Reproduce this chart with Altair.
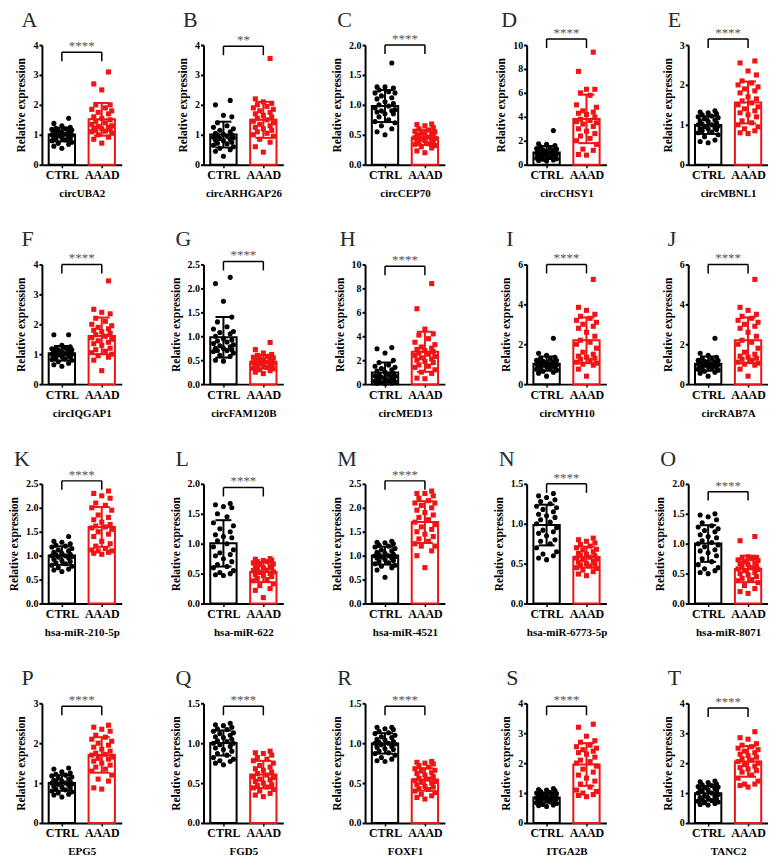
import altair as alt
import numpy as np
import pandas as pd

SERIF = "Liberation Serif"
RED = "#f01414"
GROUPS = ["CTRL", "AAAD"]

LETTERS = list("ABCDEFGHIJKLMNOPQRST")
GENES = ["circUBA2", "circARHGAP26", "circCEP70", "circCHSY1", "circMBNL1",
         "circIQGAP1", "circFAM120B", "circMED13", "circMYH10", "circRAB7A",
         "hsa-miR-210-5p", "hsa-miR-622", "hsa-miR-4521", "hsa-miR-6773-5p", "hsa-miR-8071",
         "EPG5", "FGD5", "FOXF1", "ITGA2B", "TANC2"]
Y_MAX = [4, 4, 2, 10, 3, 4, 2.5, 10, 6, 6, 2.5, 2, 2.5, 1.5, 2, 3, 1.5, 1.5, 4, 4]
Y_STEP = [1, 1, 0.5, 2, 1, 1, 0.5, 2, 2, 2, 0.5, 0.5, 0.5, 0.5, 0.5, 1, 0.5, 0.5, 1, 1]
SIGNIF = ["****", "**"] + ["****"] * 18
BRACKET = [0.94, 0.99, 1.0, 1.05, 1.05, 1.0, 1.025, 0.985, 1.0, 1.0,
           1.025, 0.97, 1.025, 1.0, 0.935, 0.975, 0.975, 0.975, 0.975, 0.96]

CTRL_A = [0.55,0.62,0.68,0.72,0.75,0.8,0.83,0.86,0.88,0.9,0.92,0.95,0.97,0.99,1.0,1.02,1.04,1.06,1.08,1.1,1.12,1.14,1.16,1.18,1.2,1.22,1.25,1.3,1.38,1.55]
AAAD_A = [0.72,0.85,0.92,1.0,1.05,1.1,1.12,1.15,1.18,1.2,1.22,1.25,1.28,1.3,1.35,1.4,1.45,1.5,1.55,1.6,1.7,1.75,1.8,1.85,1.9,2.0,2.0,2.5,2.7,3.1]
CTRL_B = [0.28,0.45,0.5,0.55,0.6,0.65,0.7,0.72,0.75,0.8,0.82,0.85,0.88,0.9,0.92,0.95,0.98,1.0,1.02,1.05,1.1,1.15,1.2,1.25,1.3,1.4,1.6,1.65,2.0,2.15]
AAAD_B = [0.42,0.6,0.75,0.85,0.95,1.0,1.05,1.1,1.15,1.2,1.25,1.3,1.35,1.4,1.45,1.5,1.55,1.6,1.65,1.7,1.75,1.8,1.85,1.9,1.95,2.0,2.05,2.1,2.2,3.55]
CTRL_C = [0.5,0.55,0.6,0.65,0.7,0.72,0.75,0.8,0.85,0.88,0.9,0.92,0.95,0.98,1.0,1.02,1.05,1.1,1.12,1.15,1.2,1.22,1.25,1.28,1.3,1.3,1.2,0.9,0.85,1.7]
AAAD_C = [0.2,0.23,0.28,0.3,0.32,0.34,0.35,0.36,0.38,0.4,0.41,0.42,0.43,0.44,0.45,0.46,0.47,0.48,0.5,0.5,0.52,0.53,0.55,0.56,0.58,0.6,0.62,0.65,0.67,0.68]
CTRL_D = [0.3,0.35,0.4,0.45,0.5,0.55,0.6,0.65,0.7,0.75,0.8,0.85,0.9,0.95,1.0,1.0,1.05,1.1,1.15,1.2,1.25,1.3,1.35,1.4,1.5,1.6,1.7,1.75,0.8,2.85]
AAAD_D = [0.8,0.85,1.2,1.3,1.7,2.0,2.2,2.4,2.6,2.8,3.0,3.2,3.4,3.5,3.6,3.7,3.8,4.0,4.2,4.3,4.4,4.5,4.8,5.0,5.8,6.0,6.3,6.3,7.8,9.4]
CTRL_E = [0.55,0.58,0.62,0.7,0.75,0.8,0.82,0.85,0.88,0.9,0.92,0.95,0.97,1.0,1.0,1.02,1.05,1.08,1.1,1.12,1.15,1.18,1.2,1.22,1.25,1.28,1.3,1.32,1.35,0.9]
AAAD_E = [0.78,0.8,0.85,0.9,0.95,1.0,1.05,1.1,1.2,1.25,1.3,1.35,1.4,1.45,1.5,1.55,1.6,1.65,1.7,1.8,1.85,1.9,1.95,2.0,2.05,2.1,2.25,2.35,2.55,2.6]
CTRL_F = [0.6,0.65,0.7,0.75,0.8,0.82,0.85,0.88,0.9,0.92,0.95,0.97,0.98,1.0,1.0,1.02,1.03,1.05,1.07,1.1,1.12,1.15,1.18,1.2,1.25,1.15,1.2,1.3,1.65,1.65]
AAAD_F = [0.45,0.8,0.9,0.95,1.0,1.05,1.1,1.15,1.2,1.3,1.35,1.4,1.45,1.5,1.55,1.6,1.65,1.7,1.75,1.8,1.85,1.9,1.95,2.0,2.1,2.2,2.35,2.4,2.5,3.45]
CTRL_G = [0.48,0.5,0.7,0.75,0.58,0.6,0.65,0.68,0.7,0.72,0.75,0.78,0.8,0.82,0.85,0.88,0.9,0.92,0.95,1.0,1.05,1.08,1.1,1.15,1.2,1.3,1.4,1.73,2.1,2.23]
AAAD_G = [0.22,0.25,0.28,0.3,0.32,0.33,0.35,0.36,0.38,0.4,0.41,0.42,0.43,0.44,0.45,0.46,0.47,0.48,0.5,0.5,0.52,0.53,0.55,0.56,0.58,0.6,0.62,0.65,0.72,0.87]
CTRL_H = [0.05,0.08,0.1,0.15,0.2,0.25,0.3,0.35,0.4,0.45,0.5,0.55,0.6,0.65,0.7,0.75,0.8,0.9,1.0,1.1,1.2,1.3,1.4,1.5,1.6,1.8,2.0,2.6,2.95,3.05]
AAAD_H = [0.45,0.5,0.9,1.0,1.2,1.4,1.5,1.6,1.8,1.9,2.0,2.1,2.2,2.3,2.4,2.5,2.6,2.7,2.8,2.9,3.0,3.1,3.3,3.5,3.8,4.1,4.2,4.6,6.3,8.4]
CTRL_I = [0.4,0.55,0.6,0.65,0.7,0.75,0.8,0.82,0.85,0.88,0.9,0.92,0.95,0.97,1.0,1.0,1.02,1.05,1.08,1.1,1.12,1.15,1.18,1.2,1.25,1.3,1.35,1.45,1.55,2.3]
AAAD_I = [0.4,0.75,0.95,1.0,1.05,1.1,1.2,1.25,1.3,1.35,1.4,1.5,1.6,1.8,2.0,2.1,2.2,2.4,2.6,2.8,2.9,3.0,3.1,3.2,3.3,3.4,3.5,3.7,3.85,5.25]
CTRL_J = [0.4,0.55,0.6,0.65,0.7,0.75,0.8,0.82,0.85,0.88,0.9,0.92,0.95,0.97,1.0,1.0,1.02,1.05,1.08,1.1,1.12,1.15,1.18,1.2,1.25,1.3,1.35,1.45,1.55,2.3]
AAAD_J = [0.4,0.75,0.95,1.0,1.05,1.1,1.2,1.25,1.3,1.35,1.4,1.5,1.6,1.8,2.0,2.1,2.2,2.4,2.6,2.8,2.9,3.0,3.1,3.2,3.3,3.4,3.5,3.7,3.85,5.25]
CTRL_K = [0.67,0.7,0.72,0.75,0.78,0.8,0.83,0.85,0.88,0.9,0.92,0.95,0.97,0.98,1.0,1.0,1.02,1.03,1.05,1.07,1.1,1.12,1.15,1.18,1.2,1.22,1.25,1.28,1.3,1.4]
AAAD_K = [1.03,1.05,1.07,1.1,1.1,1.12,1.15,1.2,1.25,1.3,1.4,1.45,1.5,1.55,1.58,1.6,1.62,1.65,1.7,1.75,1.8,1.85,1.95,2.0,2.05,2.1,2.2,2.25,2.3,2.35]
CTRL_L = [0.47,0.48,0.5,0.52,0.55,0.6,0.62,0.65,0.7,0.75,0.8,0.82,0.85,0.9,0.95,1.0,1.05,1.1,1.12,1.15,1.2,1.25,1.3,1.35,1.45,1.5,1.6,1.62,1.65,1.67]
AAAD_L = [0.1,0.22,0.25,0.3,0.33,0.38,0.4,0.42,0.45,0.47,0.48,0.5,0.52,0.53,0.55,0.56,0.58,0.6,0.6,0.62,0.63,0.65,0.66,0.68,0.7,0.7,0.72,0.72,0.74,0.75]
CTRL_M = [0.55,0.7,0.75,0.78,0.8,0.83,0.85,0.88,0.9,0.92,0.95,0.97,0.98,1.0,1.0,1.02,1.03,1.05,1.07,1.1,1.12,1.15,1.18,1.2,1.22,1.25,1.27,1.28,1.3,0.95]
AAAD_M = [0.75,1.0,1.1,1.2,1.25,1.3,1.35,1.4,1.45,1.5,1.55,1.6,1.65,1.7,1.75,1.8,1.85,1.9,1.95,2.0,2.05,2.1,2.1,2.15,2.2,2.25,2.3,2.3,2.35,1.2]
CTRL_N = [0.55,0.57,0.6,0.62,0.65,0.7,0.75,0.78,0.8,0.85,0.88,0.9,0.92,0.95,1.0,1.02,1.05,1.08,1.1,1.12,1.15,1.18,1.2,1.22,1.25,1.28,1.3,1.33,1.35,1.38]
AAAD_N = [0.35,0.37,0.4,0.42,0.44,0.45,0.47,0.48,0.5,0.52,0.53,0.55,0.56,0.57,0.58,0.6,0.6,0.62,0.63,0.65,0.67,0.68,0.7,0.72,0.74,0.76,0.78,0.8,0.82,0.5]
CTRL_O = [0.5,0.52,0.55,0.58,0.6,0.65,0.7,0.75,0.8,0.85,0.88,0.9,0.95,0.98,1.0,1.02,1.05,1.1,1.12,1.15,1.2,1.22,1.25,1.28,1.3,1.35,1.4,1.45,1.48,1.5]
AAAD_O = [0.17,0.2,0.25,0.3,0.35,0.38,0.4,0.42,0.45,0.48,0.5,0.52,0.55,0.57,0.58,0.6,0.62,0.63,0.65,0.67,0.68,0.7,0.72,0.73,0.75,0.76,0.77,0.78,1.05,1.12]
CTRL_P = [0.65,0.7,0.72,0.75,0.78,0.8,0.83,0.85,0.88,0.9,0.92,0.95,0.97,0.98,1.0,1.0,1.02,1.03,1.05,1.07,1.1,1.12,1.15,1.18,1.2,1.22,1.25,1.28,1.35,1.38]
AAAD_P = [0.85,0.88,1.05,1.1,1.2,1.3,1.35,1.4,1.45,1.5,1.55,1.6,1.62,1.65,1.7,1.72,1.75,1.8,1.85,1.9,1.95,2.0,2.05,2.1,2.15,2.2,2.3,2.35,2.4,2.45]
CTRL_Q = [0.73,0.75,0.77,0.8,0.82,0.85,0.87,0.9,0.92,0.94,0.96,0.98,1.0,1.0,1.02,1.03,1.05,1.07,1.08,1.1,1.12,1.13,1.15,1.17,1.18,1.2,1.22,1.23,1.25,0.78]
AAAD_Q = [0.33,0.35,0.37,0.4,0.42,0.44,0.45,0.47,0.48,0.5,0.52,0.54,0.55,0.57,0.58,0.6,0.62,0.64,0.66,0.68,0.7,0.72,0.75,0.78,0.8,0.82,0.85,0.87,0.88,0.9]
CTRL_R = [0.77,0.78,0.8,0.82,0.85,0.87,0.88,0.9,0.92,0.93,0.95,0.96,0.98,0.99,1.0,1.0,1.01,1.02,1.04,1.05,1.07,1.08,1.1,1.12,1.13,1.15,1.17,1.18,1.2,1.2]
AAAD_R = [0.3,0.32,0.34,0.36,0.38,0.4,0.42,0.43,0.45,0.46,0.48,0.5,0.51,0.52,0.53,0.55,0.56,0.58,0.6,0.62,0.63,0.65,0.66,0.68,0.7,0.72,0.74,0.75,0.76,0.77]
CTRL_S = [0.55,0.58,0.6,0.62,0.65,0.68,0.7,0.72,0.74,0.76,0.78,0.8,0.8,0.82,0.84,0.85,0.87,0.88,0.9,0.92,0.94,0.96,0.98,1.0,1.02,1.05,1.08,1.1,1.12,1.15]
AAAD_S = [0.88,0.92,0.95,1.0,1.05,1.1,1.2,1.3,1.4,1.5,1.6,1.7,1.8,1.9,2.0,2.05,2.1,2.2,2.3,2.35,2.4,2.45,2.5,2.55,2.6,2.7,2.75,2.9,3.2,3.3]
CTRL_T = [0.6,0.62,0.65,0.68,0.7,0.73,0.75,0.78,0.8,0.83,0.85,0.88,0.9,0.95,1.0,1.0,1.05,1.08,1.1,1.12,1.15,1.18,1.2,1.22,1.25,1.28,1.3,1.35,1.38,1.4]
AAAD_T = [1.2,1.25,1.3,1.4,1.5,1.6,1.7,1.75,1.8,1.85,1.9,1.95,2.0,2.05,2.1,2.15,2.2,2.25,2.3,2.35,2.4,2.45,2.5,2.55,2.6,2.65,2.8,2.85,3.05,1.3]

CTRL = [CTRL_A, CTRL_B, CTRL_C, CTRL_D, CTRL_E, CTRL_F, CTRL_G, CTRL_H, CTRL_I, CTRL_J,
        CTRL_K, CTRL_L, CTRL_M, CTRL_N, CTRL_O, CTRL_P, CTRL_Q, CTRL_R, CTRL_S, CTRL_T]
AAAD = [AAAD_A, AAAD_B, AAAD_C, AAAD_D, AAAD_E, AAAD_F, AAAD_G, AAAD_H, AAAD_I, AAAD_J,
        AAAD_K, AAAD_L, AAAD_M, AAAD_N, AAAD_O, AAAD_P, AAAD_Q, AAAD_R, AAAD_S, AAAD_T]

# layout constants (scatter spread pattern, bar/cap half widths in x-units)
JITTER = [0.0, -0.2, 0.17, -0.09, 0.25, -0.25, 0.09, -0.15, 0.21]
BAR_HALF = 0.33
CAP_HALF = 0.2
CENTERS = {"CTRL": 0.5, "AAAD": 1.5}
PW, PH = 80, 120
YT_PAD = 6
YL_SIZE = 10

cscale = alt.Scale(domain=GROUPS, range=["#000000", RED])
sscale = alt.Scale(domain=GROUPS, range=["circle", "square"])


def make_panel(i):
    ymax, step = Y_MAX[i], Y_STEP[i]
    groups = {"CTRL": CTRL[i], "AAAD": AAAD[i]}
    pts, summ = [], []
    for g, vals in groups.items():
        cx = CENTERS[g]
        order = np.argsort(vals, kind="stable")
        for r, idx in enumerate(order):
            pts.append({"group": g, "value": vals[idx], "x": cx + JITTER[r % len(JITTER)]})
        m = float(np.mean(vals))
        sd = float(np.std(vals, ddof=1))
        summ.append({"group": g, "mean": m, "lo": m - sd, "hi": m + sd, "zero": 0.0,
                     "x0": cx - BAR_HALF, "x1": cx + BAR_HALF, "cx": cx,
                     "c0": cx - CAP_HALF, "c1": cx + CAP_HALF})
    pts = pd.DataFrame(pts)
    summ = pd.DataFrame(summ)
    yb = BRACKET[i] * ymax
    yl = yb - 0.075 * ymax
    br_h = pd.DataFrame([{"x0": 0.5, "x1": 1.5, "yb": yb, "xm": 1.0}])
    br_v = pd.DataFrame([{"x": 0.5, "yb": yb, "yl": yl}, {"x": 1.5, "yb": yb, "yl": yl}])

    nt = int(round(ymax / step))
    ticks = [round(k * step, 3) for k in range(nt + 1)]
    fmt = ".1f" if step < 1 else "d"
    labels = [(f"{t:.1f}" if step < 1 else f"{int(t)}") for t in ticks]
    lab_w = max(sum(0.25 if ch == "." else 0.5 for ch in s) for s in labels) * YL_SIZE
    axis_extent = 11.5 + YT_PAD + lab_w + 1 + 3

    xs = alt.Scale(domain=[0, 2], nice=False, zero=False)
    ys = alt.Scale(domain=[0, ymax], nice=False, zero=True)
    yaxis = alt.Axis(values=ticks, format=fmt, grid=False,
                     title="Relative expression", domainColor="black", domainWidth=2,
                     tickColor="black", tickWidth=2, tickSize=3, labelPadding=1,
                     labelFont=SERIF, labelFontWeight="bold", labelFontSize=YL_SIZE, labelColor="black",
                     titleFont=SERIF, titleFontWeight="bold", titleFontSize=11.5, titleColor="black",
                     titlePadding=YT_PAD)
    xaxis = alt.Axis(values=[0.5, 1.5], labelExpr="datum.value < 1 ? 'CTRL' : 'AAAD'",
                     grid=False, title=GENES[i], domainColor="black", domainWidth=2,
                     tickColor="black", tickWidth=1.5, tickSize=3, labelPadding=2,
                     labelFont=SERIF, labelFontWeight="bold", labelFontSize=12, labelColor="black",
                     titleFont=SERIF, titleFontWeight="bold", titleFontSize=11, titleColor="black",
                     titlePadding=7)

    def X(f):
        return alt.X(f, type="quantitative", scale=xs, axis=xaxis)

    def Y(f):
        return alt.Y(f, type="quantitative", scale=ys, axis=yaxis)

    col = alt.Color("group:N", scale=cscale, legend=None)
    bars = alt.Chart(summ).mark_rect(fill="white", strokeWidth=2).encode(
        x=X("x0"), x2="x1", y=Y("mean"), y2="zero",
        stroke=alt.Stroke("group:N", scale=cscale, legend=None))
    dots = alt.Chart(pts).mark_point(filled=True, size=26, opacity=1).encode(
        x=X("x"), y=Y("value"), color=col,
        shape=alt.Shape("group:N", scale=sscale, legend=None))
    err = alt.Chart(summ).mark_rule(strokeWidth=2).encode(x=X("cx"), y=Y("lo"), y2="hi", color=col)
    cap_hi = alt.Chart(summ).mark_rule(strokeWidth=2).encode(x=X("c0"), x2="c1", y=Y("hi"), color=col)
    cap_lo = alt.Chart(summ).mark_rule(strokeWidth=2).encode(x=X("c0"), x2="c1", y=Y("lo"), color=col)
    bh = alt.Chart(br_h).mark_rule(strokeWidth=1.5, color="black").encode(x=X("x0"), x2="x1", y=Y("yb"))
    bv = alt.Chart(br_v).mark_rule(strokeWidth=1.5, color="black").encode(x=X("x"), y=Y("yb"), y2="yl")
    star = alt.Chart(br_h).mark_text(text=SIGNIF[i], font=SERIF, fontSize=13, color="#555555",
                                     baseline="alphabetic", dy=-2).encode(x=X("xm"), y=Y("yb"))
    letter = alt.Chart(br_h).mark_text(text=LETTERS[i], font=SERIF, fontSize=22, color="#2a2a2a",
                                       align="left", baseline="alphabetic").encode(
        x=alt.value(-axis_extent + 6), y=alt.value(-18))
    return alt.layer(bars, dots, err, cap_hi, cap_lo, bh, bv, star, letter).properties(
        width=PW, height=PH)


panels = [make_panel(i) for i in range(20)]
chart = alt.concat(*panels, columns=5, spacing={"row": 100, "column": 82},
                   bounds="flush").properties(padding=0).configure_view(stroke=None)
chart.save("out.html", embed_options={"renderer": "svg", "actions": False})
